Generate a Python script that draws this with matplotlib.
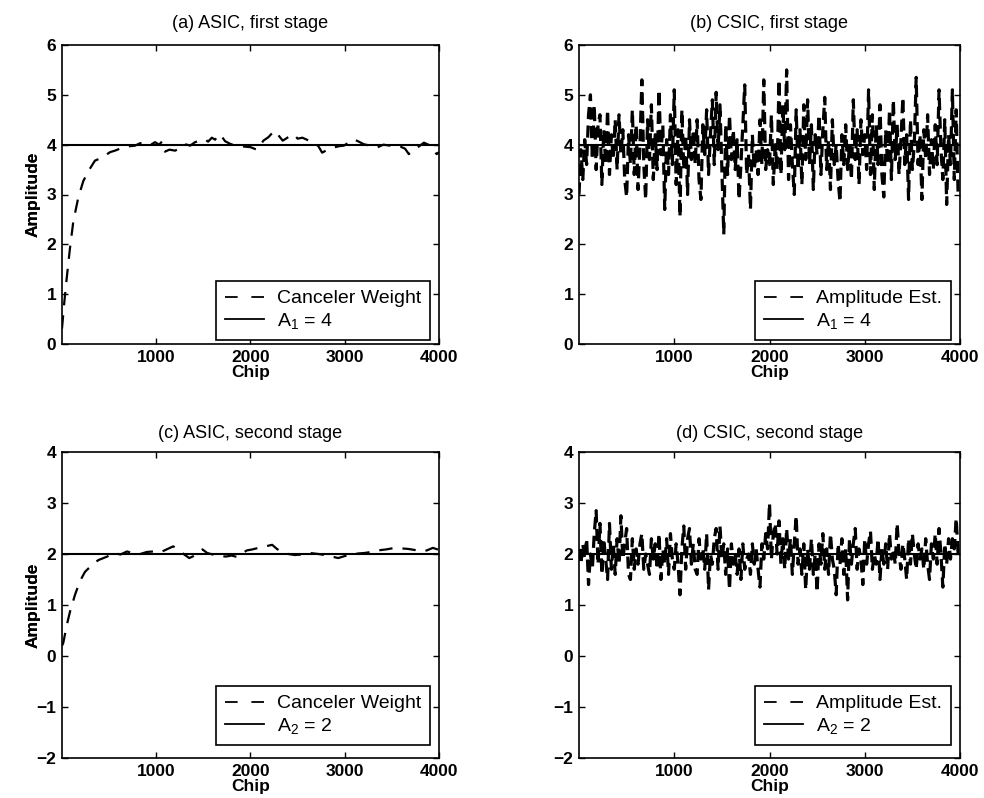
import matplotlib
matplotlib.use("Agg")
import matplotlib.pyplot as plt
import numpy as np

plt.rcParams['font.family'] = ['Liberation Sans', 'DejaVu Sans']
plt.rcParams['mathtext.fontset'] = 'custom'
plt.rcParams['mathtext.rm'] = 'Liberation Sans'

# ---------------- data ----------------
titles = ["(a) ASIC, first stage", "(b) CSIC, first stage",
          "(c) ASIC, second stage", "(d) CSIC, second stage"]
est_labels = ["Canceler Weight", "Amplitude Est.", "Canceler Weight", "Amplitude Est."]
true_labels = ["A$\\mathregular{_1}$ = 4", "A$\\mathregular{_1}$ = 4",
               "A$\\mathregular{_2}$ = 2", "A$\\mathregular{_2}$ = 2"]
true_values = [4, 4, 2, 2]
x_ticks = [1000, 2000, 3000, 4000]
y_ticks_top = [0, 1, 2, 3, 4, 5, 6]
y_ticks_bottom = [-2, -1, 0, 1, 2, 3, 4]

# (a) ASIC first stage canceler weight
a_chip = [0, 25, 50, 85, 120, 173, 226, 280, 350, 400, 456, 510, 562, 615, 668, 720,
          775, 830, 880, 935, 987, 1030, 1060, 1075, 1093, 1140, 1200, 1250, 1305, 1360,
          1411, 1460, 1517, 1550, 1590, 1625, 1659, 1700, 1730, 1780, 1836, 1890, 1942,
          2000, 2065, 2100, 2136, 2190, 2253, 2300, 2342, 2400, 2460, 2500, 2550, 2610,
          2672, 2720, 2760, 2820, 2880, 2940, 2990, 3040, 3094, 3150, 3200, 3270, 3340,
          3410, 3480, 3540, 3590, 3640, 3680, 3720, 3770, 3840, 3910, 3975, 4000]
a_weight = [0.31, 0.85, 1.32, 1.93, 2.46, 2.94, 3.27, 3.47, 3.68, 3.72, 3.78, 3.85, 3.88,
            3.92, 3.95, 3.97, 3.98, 4.03, 4.01, 3.99, 4.05, 4.0, 4.06, 3.9, 3.86, 3.9,
            3.88, 3.93, 4.01, 3.98, 4.05, 4.08, 4.11, 4.06, 4.14, 4.1, 4.21, 4.15, 4.07,
            4.02, 3.98, 3.97, 3.96, 3.95, 3.90, 3.97, 4.08, 4.15, 4.28, 4.18, 4.08, 4.15,
            4.21, 4.12, 4.14, 4.09, 4.04, 3.97, 3.84, 3.9, 3.94, 3.97, 3.98, 4.04, 4.11,
            4.06, 4.01, 3.98, 3.94, 4.0, 3.98, 3.95, 3.96, 3.92, 3.81, 3.88, 3.94, 4.04,
            3.98, 3.81, 3.85]

# (c) ASIC second stage canceler weight
c_chip = [0, 14, 50, 85, 138, 191, 244, 315, 385, 480, 550, 620, 690, 760, 830, 900, 970,
          1040, 1110, 1180, 1230, 1290, 1350, 1420, 1490, 1540, 1600, 1670, 1740, 1800,
          1860, 1960, 2020, 2085, 2160, 2230, 2280, 2340, 2400, 2470, 2545, 2630, 2720,
          2820, 2930, 3000, 3070, 3140, 3210, 3280, 3350, 3440, 3530, 3600, 3670, 3740,
          3810, 3870, 3935, 4000]
c_weight = [0.2, 0.26, 0.6, 0.87, 1.2, 1.47, 1.65, 1.78, 1.88, 1.95, 2.02, 1.99, 2.05,
            2.01, 2.0, 2.04, 2.05, 2.03, 2.09, 2.15, 2.09, 2.0, 1.92, 1.98, 2.09, 2.02,
            1.99, 1.96, 1.95, 1.97, 1.94, 2.07, 2.09, 2.12, 2.15, 2.18, 2.1, 2.03, 2.0,
            1.98, 1.99, 2.02, 2.0, 1.97, 1.92, 1.96, 1.99, 2.01, 2.02, 2.04, 2.07, 2.09,
            2.12, 2.11, 2.1, 2.08, 2.05, 2.07, 2.12, 2.08]

# (b), (d) CSIC amplitude estimates, one value every 20 chips
csic_chip = list(range(0, 4000, 20))
b_est = [3.0, 3.9, 3.3, 4.1, 3.6, 4.6, 5.0, 3.7, 4.8, 3.5, 4.4, 4.6, 3.2, 4.3, 3.6, 4.7, 3.4, 4.2, 3.7, 4.5,
         3.5, 4.6, 3.8, 4.3, 3.3, 2.95, 4.2, 3.6, 4.7, 3.4, 4.4, 3.1, 4.0, 5.3, 3.6, 2.9, 4.5, 3.7, 4.8, 3.3,
         4.2, 3.5, 5.1, 3.8, 4.4, 2.7, 4.1, 3.4, 4.6, 3.6, 5.1, 3.2, 4.3, 2.55, 4.7, 3.5, 4.2, 3.0, 4.5, 3.7,
         4.3, 3.6, 4.5, 3.3, 2.9, 4.4, 3.8, 4.7, 3.4, 4.2, 4.9, 3.6, 5.05, 3.9, 4.8, 3.5, 2.2, 4.4, 3.4, 4.6,
         3.7, 4.3, 3.5, 4.1, 2.9, 3.6, 4.4, 5.2, 3.4, 3.8, 2.7, 4.2, 3.5, 3.9, 3.4, 4.5, 3.6, 5.3, 3.5, 3.9,
         3.6, 4.6, 3.2, 4.0, 3.5, 5.3, 3.4, 4.8, 3.9, 5.5, 3.3, 4.4, 3.6, 3.0, 4.7, 3.5, 4.3, 3.2, 4.8, 3.7,
         4.9, 3.6, 4.4, 3.1, 4.2, 3.8, 4.6, 3.4, 4.3, 4.95, 3.5, 4.1, 3.1, 4.5, 3.6, 4.0, 3.3, 2.85, 4.2, 3.6,
         4.4, 3.5, 4.0, 3.3, 4.9, 3.7, 4.3, 3.2, 4.5, 3.8, 4.2, 3.5, 5.1, 3.4, 4.6, 3.1, 4.4, 3.6, 4.8, 3.4,
         2.95, 4.3, 3.6, 4.7, 3.3, 4.9, 3.7, 4.4, 3.4, 4.1, 4.95, 3.6, 4.2, 2.9, 4.5, 3.5, 4.0, 5.35, 3.6, 4.2,
         2.9, 4.3, 3.7, 4.6, 3.4, 4.1, 3.5, 4.4, 3.6, 5.1, 3.9, 3.3, 4.5, 2.8, 4.2, 3.6, 5.1, 3.3, 4.7, 3.0]
d_est = [2.1, 1.8, 2.2, 1.9, 2.3, 1.4, 2.0, 1.7, 2.4, 2.85, 1.8, 2.6, 1.6, 2.3, 1.9, 1.5, 2.6, 1.7, 2.2, 1.6,
         2.3, 1.8, 2.75, 1.9, 2.2, 2.5, 1.6, 1.5, 2.3, 1.7, 2.1, 1.8, 2.2, 2.4, 1.7, 2.0, 1.8, 1.6, 2.3, 1.9,
         2.2, 1.7, 2.4, 1.5, 2.1, 1.8, 2.3, 1.6, 2.4, 1.9, 1.7, 2.2, 1.8, 1.2, 2.1, 2.55, 1.7, 2.3, 2.5, 1.8,
         2.2, 1.7, 1.6, 2.3, 1.9, 2.1, 1.7, 2.4, 1.3, 2.0, 1.8, 2.3, 2.5, 1.7, 2.55, 1.9, 2.2, 1.6, 2.1, 1.3,
         2.2, 1.8, 2.0, 1.6, 2.1, 1.5, 2.2, 1.7, 1.9, 2.0, 1.6, 2.2, 1.8, 2.1, 1.7, 1.35, 2.2, 1.9, 2.4, 2.1,
         3.0, 1.9, 2.4, 2.6, 2.0, 2.65, 1.8, 2.3, 1.7, 2.5, 1.9, 2.3, 1.6, 2.2, 2.75, 1.8, 2.1, 1.6, 2.2, 1.3,
         2.1, 1.7, 2.3, 1.6, 2.0, 1.25, 2.2, 1.8, 2.4, 1.7, 2.1, 1.6, 2.4, 1.9, 1.7, 1.2, 2.2, 1.8, 2.3, 1.6,
         2.1, 1.1, 2.3, 1.8, 2.2, 2.5, 1.7, 2.1, 1.9, 1.4, 2.3, 1.8, 2.2, 2.45, 1.7, 2.0, 1.8, 2.3, 1.5, 2.1,
         1.8, 2.2, 1.7, 2.4, 1.9, 2.1, 1.8, 2.6, 2.0, 1.7, 2.2, 1.9, 1.5, 2.3, 1.8, 2.4, 2.0, 1.7, 2.2, 1.9,
         2.1, 1.7, 2.3, 1.8, 1.5, 2.2, 1.9, 2.4, 1.8, 2.5, 2.0, 1.35, 2.2, 1.8, 2.3, 1.9, 2.3, 2.1, 2.7, 2.0]

series_x = [a_chip, csic_chip, c_chip, csic_chip]
series_y = [a_weight, b_est, c_weight, d_est]

# ---------------- layout ----------------
W, H = 984, 798
fig = plt.figure(figsize=(W / 100, H / 100), dpi=100)

def px_axes(l, r, t, b):
    return fig.add_axes([l / W, 1 - b / H, (r - l) / W, (b - t) / H])

boxes = [(62, 439, 45, 344), (579, 960, 45, 344), (62, 439, 452, 758), (579, 960, 452, 758)]
axes = [px_axes(*b) for b in boxes]
legend_bottom_px = [340, 340, 745, 745]

line_w = [1.6, 2.3, 1.6, 2.3]
line_dash = [(6, 4.5), (3.8, 2.0), (6, 4.5), (3.8, 2.0)]
for i, ax in enumerate(axes):
    l, r, t, b = boxes[i]
    ax.plot(series_x[i], series_y[i], color='black', lw=line_w[i],
            linestyle=(0, line_dash[i]), label=est_labels[i])
    ax.axhline(true_values[i], color='black', lw=1.5, label=true_labels[i])
    ax.set_xlim(0, 4000)
    if i < 2:
        ax.set_ylim(0, 6)
        ax.set_yticks(y_ticks_top)
    else:
        ax.set_ylim(-2, 4)
        ax.set_yticks(y_ticks_bottom)
    ax.set_xticks(x_ticks)
    ax.tick_params(direction='in', top=True, right=True, length=4, width=1,
                   labelsize=12.5, pad=4)
    for lab in ax.get_xticklabels() + ax.get_yticklabels():
        lab.set_fontweight('bold')
    for s in ax.spines.values():
        s.set_linewidth(1.2)
    ax.set_title(titles[i], fontsize=13, pad=12 if i < 2 else 10)
    ax.set_xlabel("Chip", fontsize=12.5, fontweight='bold', labelpad=0)
    ax.set_ylabel("Amplitude", fontsize=12.5, fontweight='bold')
    ax.yaxis.set_label_coords((41 - l) / (r - l), 0.5)
    leg = ax.legend(loc='lower right',
                    bbox_to_anchor=(0.977, (b - legend_bottom_px[i]) / (b - t)),
                    borderaxespad=0, fontsize=14, frameon=True, fancybox=False,
                    framealpha=1, edgecolor='black', handlelength=2.0,
                    handletextpad=0.7, borderpad=0.45, labelspacing=0.2)
    leg.get_frame().set_linewidth(1.2)
    hl = leg.get_lines()
    hl[0].set_linestyle((0, (7.0, 7.6)))
    hl[0].set_linewidth(1.3)
    hl[1].set_linewidth(1.3)

fig.savefig("out.png", dpi=100)
